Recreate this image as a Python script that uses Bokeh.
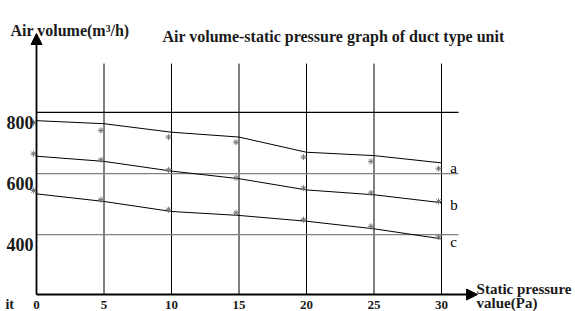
from bokeh.plotting import figure
from bokeh.models import Arrow, NormalHead, ColumnDataSource
from bokeh.transform import dodge
from bokeh.embed import file_html
from bokeh.resources import INLINE
from bokeh.core.properties import value

# ---- data ----
pressure = [0, 5, 10, 15, 20, 25, 30]
curve_a = [806, 796, 768, 752, 702, 691, 667]
curve_b = [689, 672, 640, 615, 578, 562, 536]
curve_c = [565, 540, 507, 494, 475, 450, 417]
marks_a = [800, 774, 752, 735, 686, 672, 648]
marks_b = [697, 677, 644, 618, 584, 568, 540]
marks_c = [576, 546, 513, 502, 480, 458, 423]
curve_names = ["a", "b", "c"]
name_y = [649, 530, 405]
y_ticks = [400, 600, 800]
y_tick_labels = ["400", "600", "800"]
x_ticks = [0, 5, 10, 15, 20, 25, 30]
x_tick_labels = ["0", "5", "10", "15", "20", "25", "30"]
ref_lines = [833, 632, 431]
ref_colors = ["black", "#808080", "#808080"]

FONT = "Liberation Serif"
TXT = "#1a1a1a"
YB = 233.7            # level of the pressure axis
X0, X1 = -2.667, 39.926
Y0, Y1 = 177.8, 1201.6

p = figure(width=575, height=311, output_backend="svg", toolbar_location=None,
           x_range=(X0, X1), y_range=(Y0, Y1),
           x_axis_location=None, y_axis_location=None,
           min_border=0)
p.outline_line_color = None
p.grid.visible = False

# vertical grid lines
vx = x_ticks[1:]
p.segment(x0=vx, y0=[YB] * len(vx), x1=vx, y1=[994] * len(vx), line_color="black", line_width=1)
# horizontal reference lines
p.segment(x0=[0] * 3, y0=ref_lines, x1=[31.26] * 3, y1=ref_lines, line_color=ref_colors, line_width=1.2)

# curves
src = ColumnDataSource(dict(x=pressure, a=curve_a, b=curve_b, c=curve_c,
                            ma=marks_a, mb=marks_b, mc=marks_c))
for col in ("a", "b", "c"):
    p.line(x="x", y=col, source=src, line_color="black", line_width=1)
for col in ("ma", "mb", "mc"):
    p.scatter(x=dodge("x", -0.22), y=col, source=src, marker="asterisk", size=6,
              line_color="#777777", line_width=1)

# curve names
p.text(x=[30.65] * 3, y=name_y, text=curve_names, text_font=value(FONT),
       text_font_size="15px", text_baseline="middle", text_align="left", text_color="black")

# tick labels
p.text(x=[0] * 3, y=y_ticks, text=y_tick_labels, x_offset=-3, text_font=value(FONT),
       text_font_size="18px", text_font_style="bold", text_align="right",
       text_baseline="middle", text_color=TXT)
p.text(x=x_ticks, y=[214] * len(x_ticks), text=x_tick_labels, text_font=value(FONT),
       text_font_size="13px", text_font_style="bold", text_align="center",
       text_baseline="top", text_color=TXT)

# axis arrows
p.add_layout(Arrow(end=NormalHead(size=11, fill_color="black", line_color="black"),
                   x_start=0, y_start=YB, x_end=0, y_end=1093,
                   line_color="black", line_width=1.8))
p.add_layout(Arrow(end=NormalHead(size=11, fill_color="black", line_color="black"),
                   x_start=0, y_start=YB, x_end=32.67, y_end=YB,
                   line_color="black", line_width=1.8))

# titles / axis names
def lab(x, y, t, size):
    p.text(x=[x], y=[y], text=[t], text_font=value(FONT), text_font_size=size,
           text_font_style="bold", text_color=TXT, text_baseline="alphabetic",
           text_align="left")

lab(-1.93, 1103, "Air volume(m³/h)", "16px")
lab(9.33, 1083, "Air volume-static pressure graph of duct type unit", "16px")
lab(32.6, 253.5, "Static pressure", "15px")
lab(32.6, 207, "value(Pa)", "15px")
lab(-2.3, 200, "it", "14px")

open("out.html", "w").write(file_html(p, INLINE))
